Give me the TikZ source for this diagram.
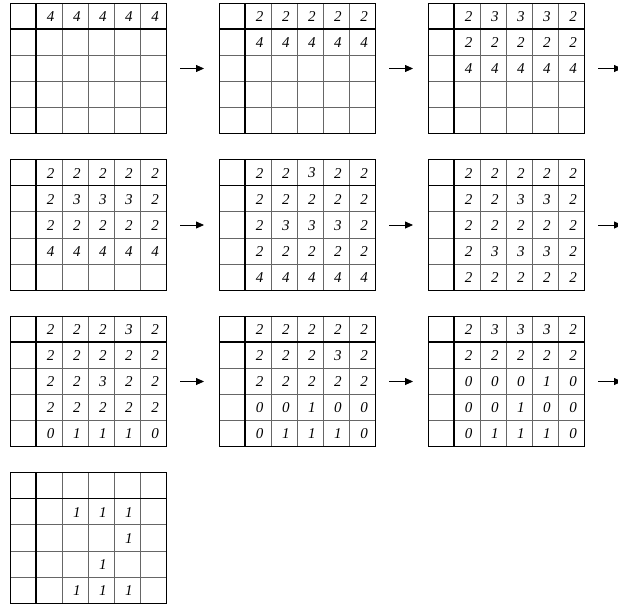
\documentclass[tikz,border=0pt]{standalone}
\usepackage{fontspec}
\setmainfont{Liberation Serif}
\usetikzlibrary{arrows.meta}
\tikzset{
  gridline/.style={draw=black!60, line width=0.6pt},
  thickline/.style={draw=black, line width=1.4pt},
  val/.style={inner sep=0pt, font=\fontsize{15}{15}\selectfont\itshape},
  arr/.style={draw=black, line width=0.8pt, -{Triangle[length=8pt,width=7pt]}}
}
\newcommand\cw{26.1}
% #1 name, #2 x, #3 y, #4 rows
\newcommand\mygrid[4]{%
  \begin{scope}[shift={(#2,#3)}]
    \foreach \i in {0,...,6} {\draw[gridline] (\i*\cw,0) -- (\i*\cw,5*\cw);}
    \foreach \j in {0,...,5} {\draw[gridline] (0,\j*\cw) -- (6*\cw,\j*\cw);}
    \draw[thickline] (0,\cw) -- (6*\cw,\cw);
    \draw[thickline] (\cw,0) -- (\cw,5*\cw);
    \draw[draw=black, line width=0.8pt] (0,0) rectangle (6*\cw,5*\cw);
    \foreach \rw [count=\r from 0] in {#4} {
      \foreach \v [count=\c] in \rw {
        \if e\v\else
          \node[val] (#1-\r-\c) at (\c*\cw+0.5*\cw+1.5, \r*\cw+0.5*\cw+0.5) {\v};
        \fi
      }
    }
  \end{scope}}
\begin{document}
\begin{tikzpicture}[x=1pt,y=-1pt]
\clip (0,0) rectangle (618,605);
\mygrid{g1}{10}{3}{{4,4,4,4,4},{e,e,e,e,e},{e,e,e,e,e},{e,e,e,e,e},{e,e,e,e,e}}
\mygrid{g2}{219}{3}{{2,2,2,2,2},{4,4,4,4,4},{e,e,e,e,e},{e,e,e,e,e},{e,e,e,e,e}}
\mygrid{g3}{428}{3}{{2,3,3,3,2},{2,2,2,2,2},{4,4,4,4,4},{e,e,e,e,e},{e,e,e,e,e}}
\mygrid{g4}{10}{159.5}{{2,2,2,2,2},{2,3,3,3,2},{2,2,2,2,2},{4,4,4,4,4},{e,e,e,e,e}}
\mygrid{g5}{219}{159.5}{{2,2,3,2,2},{2,2,2,2,2},{2,3,3,3,2},{2,2,2,2,2},{4,4,4,4,4}}
\mygrid{g6}{428}{159.5}{{2,2,2,2,2},{2,2,3,3,2},{2,2,2,2,2},{2,3,3,3,2},{2,2,2,2,2}}
\mygrid{g7}{10}{316}{{2,2,2,3,2},{2,2,2,2,2},{2,2,3,2,2},{2,2,2,2,2},{0,1,1,1,0}}
\mygrid{g8}{219}{316}{{2,2,2,2,2},{2,2,2,3,2},{2,2,2,2,2},{0,0,1,0,0},{0,1,1,1,0}}
\mygrid{g9}{428}{316}{{2,3,3,3,2},{2,2,2,2,2},{0,0,0,1,0},{0,0,1,0,0},{0,1,1,1,0}}
\mygrid{g10}{10}{472.5}{{e,e,e,e,e},{e,1,1,1,e},{e,e,e,1,e},{e,e,1,e,e},{e,1,1,1,e}}
% arrows
\foreach \n/\x/\y in {1/10/3,2/219/3,3/428/3,4/10/159.5,5/219/159.5,6/428/159.5,7/10/316,8/219/316,9/428/316} {
  \coordinate (a\n s) at (\x+170,\y+65.5);
  \coordinate (a\n e) at (\x+194,\y+65.5);
  \draw[arr] (a\n s) -- (a\n e);
}
\end{tikzpicture}
\end{document}
